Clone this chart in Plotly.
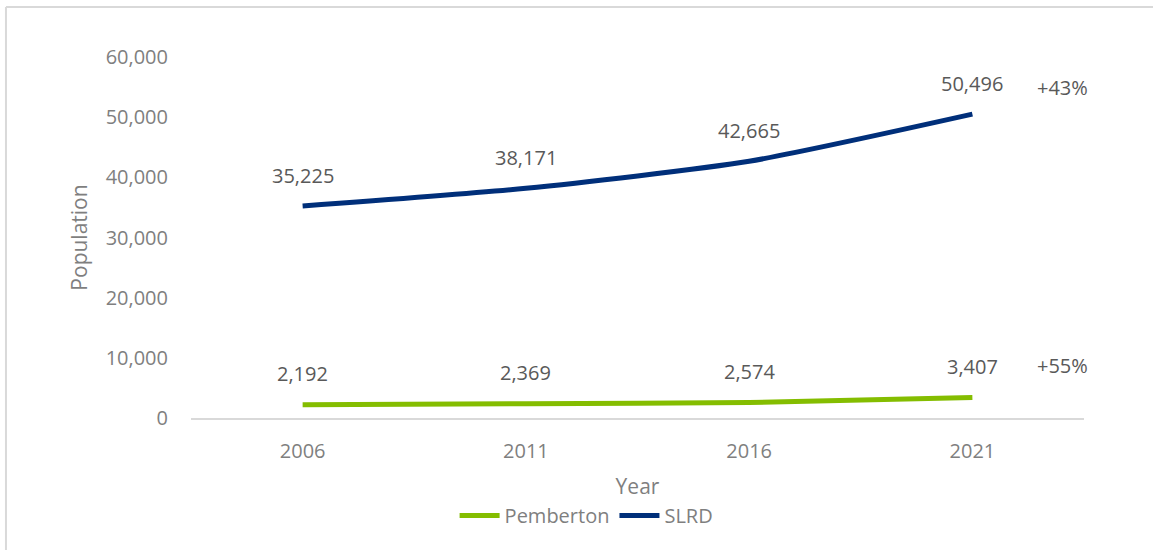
import plotly.graph_objects as go

years = ["2006", "2011", "2016", "2021"]
pemberton = [2192, 2369, 2574, 3407]
slrd = [35225, 38171, 42665, 50496]
y_ticks = [0, 10000, 20000, 30000, 40000, 50000, 60000]

FONT = "Open Sans"
AXIS_GREY = "#7f7f7f"
LABEL_GREY = "#595959"

fig = go.Figure()
fig.add_trace(go.Scatter(x=years, y=pemberton, name="Pemberton", mode="lines",
                         line=dict(color="#84bd00", width=5, shape="spline", smoothing=0.6)))
fig.add_trace(go.Scatter(x=years, y=slrd, name="SLRD", mode="lines",
                         line=dict(color="#002f7a", width=5, shape="spline", smoothing=0.6)))

# data labels above each point (x given as category index)
anns = []
for series in (pemberton, slrd):
    for i, v in enumerate(series):
        anns.append(dict(x=i, y=v, text="{:,}".format(v), showarrow=False, yshift=31,
                         font=dict(family=FONT, size=20, color=LABEL_GREY)))

# growth labels to the right
for series, ypos in ((slrd, 55000), (pemberton, 8700)):
    pct = round((series[-1] / series[0] - 1) * 100)
    anns.append(dict(x=0.976, xref="paper", xanchor="center", y=ypos, text="+{}%".format(pct),
                     showarrow=False, font=dict(family=FONT, size=20, color=LABEL_GREY)))

fig.update_layout(
    width=1153, height=550,
    margin=dict(l=191, r=69, t=57, b=132),
    paper_bgcolor="white", plot_bgcolor="white",
    font=dict(family=FONT, size=20, color=AXIS_GREY),
    showlegend=True,
    legend=dict(orientation="h", x=0.443, xanchor="center", y=-0.27, yanchor="middle",
                font=dict(family=FONT, size=20, color=AXIS_GREY), itemwidth=40),
    annotations=anns,
    xaxis=dict(type="category", range=[-0.5, 3.5], showgrid=False, zeroline=False, showline=True,
               linecolor="#d9d9d9", linewidth=2, ticks="", ticklabelstandoff=14,
               title=dict(text="Year", standoff=16, font=dict(size=21, color=AXIS_GREY)),
               tickfont=dict(size=20, color=AXIS_GREY)),
    yaxis=dict(range=[0, 60000], tickvals=y_ticks, tickformat=",", showgrid=False,
               zeroline=False, showline=False, ticks="", ticklabelstandoff=22,
               title=dict(text="Population", standoff=12, font=dict(size=21, color=AXIS_GREY)),
               tickfont=dict(size=20, color=AXIS_GREY)),
    shapes=[
        dict(type="line", xref="paper", yref="paper", x0=-0.2072, x1=-0.2072, y0=1.1385, y1=-0.4,
             line=dict(color="#d9d9d9", width=2)),
        dict(type="line", xref="paper", yref="paper", x0=-0.2072, x1=1.1, y0=1.1385, y1=1.1385,
             line=dict(color="#d9d9d9", width=2)),
    ],
)

fig.write_html("out.html", config={"displayModeBar": False},
               post_script="document.body.style.margin='0';")
